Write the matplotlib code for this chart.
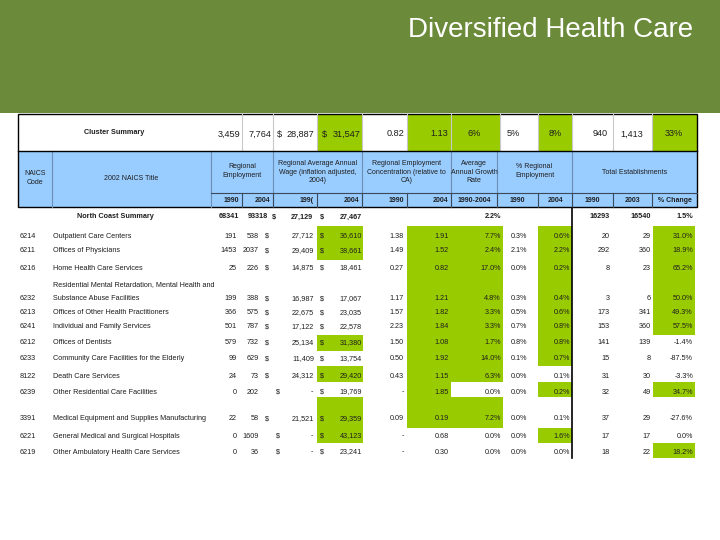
import matplotlib
matplotlib.use("Agg")
import matplotlib.pyplot as plt
from matplotlib.patches import Rectangle

plt.rcParams['font.family'] = ['Liberation Sans', 'DejaVu Sans']

# ====== DATA ======
slide_title = "Diversified Health Care"

cluster_values = ["3,459", "7,764", "28,887", "31,547", "0.82", "1.13",
                  "6%", "5%", "8%", "940", "1,413", "33%"]

header_labels = ["NAICS\nCode", "2002 NAICS Title", "Regional\nEmployment",
                 "Regional Average Annual\nWage (inflation adjusted,\n2004)",
                 "Regional Employment\nConcentration (relative to\nCA)",
                 "Average\nAnnual Growth\nRate", "% Regional\nEmployment",
                 "Total Establishments"]
sub_labels = ["1990", "2004", "199(", "2004", "1990", "2004", "1990-2004",
              "1990", "2004", "1990", "2003", "% Change"]

# North Coast summary row
ncs_emp = [68341, 93318]
ncs_wage = [27129, 27467]
ncs_growth = 2.2
ncs_est = [16293, 16540]
ncs_change = 1.5

codes = ["6214", "6211", "6216", "6232", "6213", "6241", "6212", "6233",
         "8122", "6239", "3391", "6221", "6219"]
titles = ["Outpatient Care Centers", "Offices of Physicians",
          "Home Health Care Services",
          "Residential Mental Retardation, Mental Health and\nSubstance Abuse Facilities",
          "Offices of Other Health Practitioners", "Individual and Family Services",
          "Offices of Dentists", "Community Care Facilities for the Elderly",
          "Death Care Services", "Other Residential Care Facilities",
          "Medical Equipment and Supplies Manufacturing",
          "General Medical and Surgical Hospitals",
          "Other Ambulatory Health Care Services"]
emp_1990 = [191, 1453, 25, 199, 366, 501, 579, 99, 24, 0, 22, 0, 0]
emp_2004 = [538, 2037, 226, 388, 575, 787, 732, 629, 73, 202, 58, 1609, 36]
wage_1990 = [27712, 29409, 14875, 16987, 22675, 17122, 25134, 11409, 24312,
             None, 21521, None, None]
wage_2004 = [36610, 38661, 18461, 17067, 23035, 22578, 31380, 13754, 29420,
             19769, 29359, 43123, 23241]
conc_1990 = [1.38, 1.49, 0.27, 1.17, 1.57, 2.23, 1.50, 0.50, 0.43, None, 0.09,
             None, None]
conc_2004 = [1.91, 1.52, 0.82, 1.21, 1.82, 1.84, 1.08, 1.92, 1.15, 1.85, 0.19,
             0.68, 0.30]
growth = [7.7, 2.4, 17.0, 4.8, 3.3, 3.3, 1.7, 14.0, 6.3, 0.0, 7.2, 0.0, 0.0]
share_1990 = [0.3, 2.1, 0.0, 0.3, 0.5, 0.7, 0.8, 0.1, 0.0, 0.0, 0.0, 0.0, 0.0]
share_2004 = [0.6, 2.2, 0.2, 0.4, 0.6, 0.8, 0.8, 0.7, 0.1, 0.2, 0.1, 1.6, 0.0]
est_1990 = [20, 292, 8, 3, 173, 153, 141, 15, 31, 32, 37, 17, 18]
est_2003 = [29, 360, 23, 6, 341, 360, 139, 8, 30, 49, 29, 17, 22]
est_change = [31.0, 18.9, 65.2, 50.0, 49.3, 57.5, -1.4, -87.5, -3.3, 34.7,
              -27.6, 0.0, 18.2]

# highlighted (green) cells per row
hl_wage = [1, 1, 0, 0, 0, 0, 1, 0, 1, 0, 1, 1, 0]
hl_conc = [1, 1, 1, 1, 1, 1, 1, 1, 1, 1, 1, 0, 0]
hl_growth = [1, 1, 1, 1, 1, 1, 1, 1, 1, 0, 1, 0, 0]
hl_share = [1, 1, 1, 1, 1, 1, 1, 1, 0, 1, 0, 1, 0]
hl_change = [1, 1, 1, 1, 1, 1, 0, 0, 0, 1, 0, 0, 1]

# ====== LAYOUT (pixels) ======
GREEN = "#99CC00"
BANNER = "#6B8B3A"
BLUE = "#99CCFF"
TXT = "#1E1E1E"
FS = 5.2      # data font size
HS = 5.0      # header font size
CS = 6.6      # cluster row font size

X0, X1 = 18, 697
Y_TOP, Y_CL, Y_HD, Y_SUB = 114, 151, 193, 207
head_edges = [18, 52, 211, 273, 362, 451, 497, 572, 697]
sub_edges = [211, 242, 273, 317, 362, 407, 451, 497, 538, 572, 613, 652, 697]
cl_edges = [211, 242, 273, 317, 362, 407, 451, 500, 538, 572, 613, 652, 697]
cl_green = [3, 5, 6, 8, 11]

row_y = [236, 251, 268, 299, 313, 327, 343, 359, 376, 392, 419, 436, 452]
row_top = [226, 244, 260, 277, 306, 320, 335, 351, 366, 382, 397, 428, 443]
row_bot = row_top[1:] + [458]

fig = plt.figure(figsize=(7.2, 5.4), dpi=100)
ax = fig.add_axes([0, 0, 1, 1])
ax.set_xlim(0, 720)
ax.set_ylim(540, 0)
ax.axis("off")

# banner
ax.add_patch(Rectangle((0, 0), 720, 113, color=BANNER, lw=0))
ax.text(693, 30, slide_title, color="white", fontsize=20, ha="right", va="center")


def rect(x0, y0, x1, y1, c):
    ax.add_patch(Rectangle((x0, y0), x1 - x0, y1 - y0, facecolor=c, lw=0))


def txt(x, y, s, ha="right", size=FS, weight="normal"):
    ax.text(x, y, s, ha=ha, va="center", fontsize=size, color=TXT, fontweight=weight)


# ====== CLUSTER SUMMARY ROW ======
for i in cl_green:
    rect(cl_edges[i], Y_TOP, cl_edges[i + 1], Y_CL, GREEN)
for x in cl_edges[1:-1]:
    ax.plot([x, x], [Y_TOP, Y_CL], color="#C8C8C8", lw=0.8)
txt(114, 133, "Cluster Summary", ha="center", size=5.2, weight="bold")
yc = 134
txt(240, yc, cluster_values[0], size=CS)
txt(271, yc, cluster_values[1], size=CS)
txt(277, yc, "$", ha="left", size=CS)
txt(314, yc, cluster_values[2], size=CS)
txt(322, yc, "$", ha="left", size=CS)
txt(361, yc, cluster_values[3], size=CS)
txt(404, yc, cluster_values[4], size=CS)
txt(448, yc, cluster_values[5], size=CS)
txt(474, yc, cluster_values[6], ha="center", size=CS)
txt(513, yc, cluster_values[7], ha="center", size=CS)
txt(555, yc, cluster_values[8], ha="center", size=CS)
txt(608, yc, cluster_values[9], size=CS)
txt(643, yc, cluster_values[10], size=CS)
txt(674, yc, cluster_values[11], ha="center", size=CS)

# ====== HEADER ======
rect(X0, Y_CL, X1, Y_SUB, BLUE)
for x in head_edges[1:-1]:
    ax.plot([x, x], [Y_CL, Y_SUB], color="#6E8FB5", lw=0.8)
for x in sub_edges[1:-1]:
    ax.plot([x, x], [Y_HD, Y_SUB], color="#3A4A5A", lw=0.8)
ax.plot([211, X1], [Y_HD, Y_HD], color="#3A4A5A", lw=0.8)
hy = [178, 178, 171, 172, 172, 172, 171, 172]
for i, lab in enumerate(header_labels):
    cx = (head_edges[i] + head_edges[i + 1]) / 2
    ax.text(cx, hy[i], lab, ha="center", va="center", fontsize=HS, color=TXT,
            linespacing=1.35)
for i, lab in enumerate(sub_labels):
    l, r = sub_edges[i], sub_edges[i + 1]
    if i < 6:
        txt(r - 3, 200.5, lab, size=HS, weight="bold")
    else:
        txt((l + r) / 2, 200.5, lab, ha="center", size=HS, weight="bold")
ax.add_patch(Rectangle((X0, Y_TOP), X1 - X0, Y_SUB - Y_TOP, fill=False,
                       edgecolor="black", lw=1.0))
ax.plot([X0, X1], [Y_CL, Y_CL], color="black", lw=1.0)

# ====== DATA ROWS ======
for i in range(len(codes)):
    t, b = row_top[i], row_bot[i]
    if hl_wage[i]:
        rect(317, t, 363, b, GREEN)
    if hl_conc[i]:
        rect(407, t, 451, b, GREEN)
    if hl_growth[i]:
        rect(451, t, 503, b, GREEN)
    if hl_share[i]:
        rect(538, t, 572, b, GREEN)
    if hl_change[i]:
        rect(653, t, 695, b, GREEN)

ax.plot([572, 572], [Y_SUB + 1, 458], color="black", lw=1.2)

# North Coast Summary
y = 217
bw = "bold"
txt(115, y, "North Coast Summary", ha="center", weight=bw)
txt(239, y, f"{ncs_emp[0]}", weight=bw)
txt(268, y, f"{ncs_emp[1]}", weight=bw)
txt(272, y, "$", ha="left", weight=bw)
txt(313, y, f"{ncs_wage[0]:,}", weight=bw)
txt(320, y, "$", ha="left", weight=bw)
txt(362, y, f"{ncs_wage[1]:,}", weight=bw)
txt(501, y, f"{ncs_growth:.1f}%", weight=bw)
txt(610, y, f"{ncs_est[0]}", weight=bw)
txt(651, y, f"{ncs_est[1]}", weight=bw)
txt(693, y, f"{ncs_change:.1f}%", weight=bw)

for i in range(len(codes)):
    y = row_y[i]
    txt(20, y, codes[i], ha="left")
    if "\n" in titles[i]:
        l1, l2 = titles[i].split("\n")
        txt(53, y - 14, l1, ha="left")
        txt(53, y, l2, ha="left")
    else:
        txt(53, y, titles[i], ha="left")
    txt(237, y, f"{emp_1990[i]}")
    txt(259, y, f"{emp_2004[i]}")
    if wage_1990[i] is None:
        txt(276, y, "$", ha="left")
        txt(313, y, "-")
    else:
        txt(265, y, "$", ha="left")
        txt(314, y, f"{wage_1990[i]:,}")
    txt(320, y, "$", ha="left")
    txt(362, y, f"{wage_2004[i]:,}")
    txt(404, y, "-" if conc_1990[i] is None else f"{conc_1990[i]:.2f}")
    txt(449, y, f"{conc_2004[i]:.2f}")
    txt(501, y, f"{growth[i]:.1f}%")
    txt(527, y, f"{share_1990[i]:.1f}%")
    txt(570, y, f"{share_2004[i]:.1f}%")
    txt(610, y, f"{est_1990[i]}")
    txt(651, y, f"{est_2003[i]}")
    txt(693, y, f"{est_change[i]:.1f}%")

fig.savefig("out.png", dpi=100)
